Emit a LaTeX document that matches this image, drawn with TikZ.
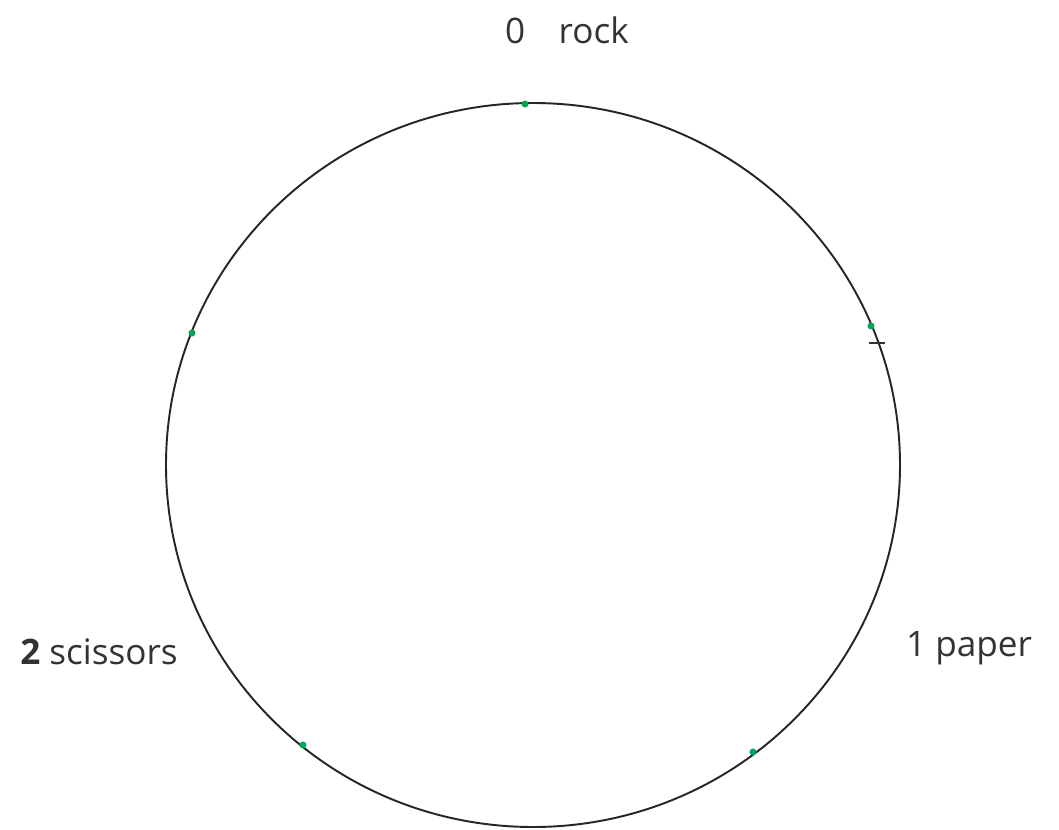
\documentclass[tikz,border=0pt]{standalone}
\usepackage{fontspec}
\setmainfont{Open Sans}
\usepackage{tikz}

\begin{document}
\begin{tikzpicture}[
  x=0.02cm, y=-0.02cm,
  ring/.style={draw, line width=1.1pt, black!85},
  dot/.style={circle, fill=teal!70!green, inner sep=0pt, minimum size=4pt},
  lbl/.style={font=\fontsize{20}{24}\selectfont, text=black!80, inner sep=0pt}
]
  \useasboundingbox (0,0) rectangle (1059,829);

  \path[ring] (533,465) ellipse [x radius=367, y radius=362];

  \node[dot] (top)   at (525,104) {};
  \node[dot] (left)  at (192,333) {};
  \node[dot] (right) at (871,326) {};
  \node[dot] (botl)  at (303,745) {};
  \node[dot] (botr)  at (753,752) {};
  \draw[line width=0.8pt, black!80] (869,343) -- (885,343);

  \node[lbl] (rock)     at (567,30)  {0\hspace{0.95em}rock};
  \node[lbl] (paper)    at (969,648) {1 paper};
  \node[lbl] (scissors) at (99,652)  {\textbf{2} scissors};
\end{tikzpicture}
\end{document}
